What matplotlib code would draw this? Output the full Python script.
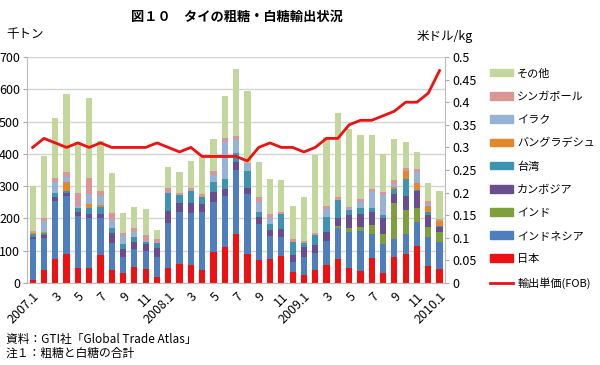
import matplotlib
matplotlib.use('Agg')
import matplotlib.pyplot as plt
from matplotlib.patches import Patch
from matplotlib.lines import Line2D
import numpy as np

plt.rcParams['font.family'] = ['Noto Sans CJK JP', 'DejaVu Sans']

# months 2007.1 - 2010.1
months = ['2007.1', '2', '3', '4', '5', '6', '7', '8', '9', '10', '11', '12',
          '2008.1', '2', '3', '4', '5', '6', '7', '8', '9', '10', '11', '12',
          '2009.1', '2', '3', '4', '5', '6', '7', '8', '9', '10', '11', '12',
          '2010.1']

# 千トン
japan = [10, 40, 73, 89, 46, 46, 88, 39, 31, 49, 42, 19,
         47, 58, 56, 40, 97, 113, 151, 91, 70, 74, 83, 34,
         24, 39, 56, 73, 47, 38, 76, 31, 80, 91, 114, 54, 43]
indonesia = [126, 100, 181, 181, 162, 155, 113, 85, 50, 55, 58, 60,
             139, 163, 160, 179, 154, 157, 198, 185, 112, 71, 60, 30,
             55, 54, 74, 98, 111, 123, 75, 90, 57, 62, 74, 88, 84]
india = [0, 0, 0, 0, 0, 0, 0, 0, 0, 0, 0, 0,
         0, 0, 0, 0, 0, 0, 0, 0, 0, 0, 0, 0,
         0, 0, 0, 5, 13, 13, 30, 30, 110, 74, 43, 32, 31]
cambodia = [8, 8, 13, 8, 12, 13, 14, 30, 23, 24, 20, 30,
            38, 26, 31, 25, 31, 20, 27, 19, 21, 20, 24, 24,
            31, 26, 28, 26, 39, 40, 38, 49, 30, 43, 53, 36, 16]
taiwan = [8, 6, 11, 6, 13, 19, 20, 15, 16, 13, 8, 15,
          54, 26, 39, 23, 30, 32, 28, 52, 16, 18, 47, 40,
          13, 29, 46, 56, 17, 18, 14, 10, 15, 52, 4, 11, 4]
bangladesh = [4, 5, 0, 30, 0, 12, 6, 0, 0, 0, 0, 0,
              0, 0, 0, 0, 0, 0, 0, 0, 0, 0, 0, 0,
              0, 0, 0, 0, 0, 0, 0, 0, 4, 25, 21, 18, 13]
iraq = [0, 33, 35, 14, 6, 30, 28, 27, 28, 18, 3, 0,
        0, 0, 0, 0, 22, 116, 39, 22, 33, 18, 0, 0,
        0, 0, 24, 0, 3, 20, 50, 63, 12, 0, 34, 7, 0]
singapore = [5, 8, 13, 15, 41, 50, 17, 21, 8, 12, 18, 12,
             17, 6, 8, 9, 13, 11, 12, 3, 14, 12, 5, 8,
             7, 8, 11, 8, 4, 7, 8, 10, 10, 9, 9, 8, 7]
others = [139, 192, 186, 243, 156, 247, 155, 125, 62, 64, 79, 28,
          63, 64, 85, 114, 100, 130, 207, 222, 110, 110, 101, 104,
          137, 239, 214, 260, 242, 200, 169, 117, 127, 80, 55, 57, 86]

# 米ドル/kg
price = [0.30, 0.32, 0.31, 0.30, 0.31, 0.30, 0.31, 0.30, 0.30, 0.30, 0.30, 0.31,
         0.30, 0.29, 0.30, 0.28, 0.28, 0.28, 0.28, 0.27, 0.30, 0.31, 0.30, 0.30,
         0.29, 0.30, 0.32, 0.32, 0.35, 0.36, 0.36, 0.37, 0.38, 0.40, 0.40, 0.42, 0.47]

series = [
    ('日本', japan, '#EE1111'),
    ('インドネシア', indonesia, '#4F7EBE'),
    ('インド', india, '#7EA03C'),
    ('カンボジア', cambodia, '#6A4D8C'),
    ('台湾', taiwan, '#3C94B0'),
    ('バングラデシュ', bangladesh, '#E3872D'),
    ('イラク', iraq, '#95B3D7'),
    ('シンガポール', singapore, '#D99694'),
    ('その他', others, '#C3D69B'),
]

fig = plt.figure(figsize=(6, 3.65), dpi=100)
ax = fig.add_axes([0.045, 0.2247, 0.697, 0.619])
x = np.arange(len(months))

bottom = np.zeros(len(months))
for name, vals, col in series:
    ax.bar(x, vals, 0.55, bottom=bottom, color=col, linewidth=0, zorder=2)
    bottom += np.array(vals)

ax.set_ylim(0, 700)
ax.set_yticks(range(0, 701, 100))
ax.set_xlim(-0.5, len(months) - 0.5)
ax.grid(axis='y', color='#D4D4D4', linewidth=1, zorder=0)
ax.set_axisbelow(True)
ticks = x[::2]
ax.set_xticks(ticks)
ax.set_xticklabels([months[i] for i in ticks], rotation=45, ha='right',
                   rotation_mode='anchor', fontsize=9)
ax.tick_params(axis='x', length=0, pad=5)
ax.tick_params(axis='y', labelsize=9, length=3, color='#AAAAAA', pad=2)
for s in ['top', 'right']:
    ax.spines[s].set_visible(False)
for s in ['left', 'bottom']:
    ax.spines[s].set_color('#BBBBBB')

ax2 = ax.twinx()
ax2.plot(x, price, color='#EE1111', linewidth=2, zorder=5)
ax2.set_ylim(0, 0.5)
ax2.set_yticks(np.arange(0, 0.51, 0.05))
ax2.set_yticklabels(['0', '0.05', '0.1', '0.15', '0.2', '0.25', '0.3', '0.35',
                     '0.4', '0.45', '0.5'])
ax2.tick_params(axis='y', labelsize=9, length=3, color='#AAAAAA', pad=2)
for s in ['top', 'left', 'bottom']:
    ax2.spines[s].set_visible(False)
ax2.spines['right'].set_color('#BBBBBB')

fig.text(0.395, 0.955, '図１０　タイの粗糖・白糖輸出状況', ha='center', va='center',
         fontsize=9.5, fontweight='bold')
fig.text(0.01, 0.905, '千トン', fontsize=9, va='center')
fig.text(0.695, 0.9, '米ドル/kg', fontsize=9, va='center')

handles = [Patch(color=col, label=name) for name, vals, col in series[::-1]]
handles.append(Line2D([0], [0], color='#EE1111', linewidth=2, label='輸出単価(FOB)'))
fig.legend(handles=handles, loc='upper left', bbox_to_anchor=(0.8, 0.84),
           frameon=False, fontsize=8, labelspacing=1.17, handlelength=2.1,
           handleheight=0.65, handletextpad=0.35)

fig.text(0.01, 0.07, '資料：GTI社「Global Trade Atlas」', fontsize=8.5, va='center')
fig.text(0.01, 0.033, '注１：粗糖と白糖の合計', fontsize=8.5, va='center')

fig.savefig('out.png', dpi=100)
